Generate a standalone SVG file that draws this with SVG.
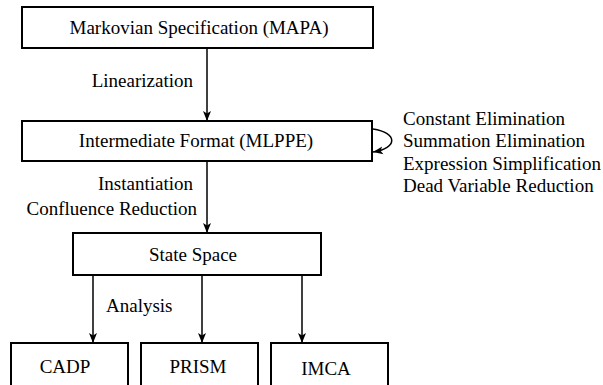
<svg xmlns="http://www.w3.org/2000/svg" width="603" height="385" viewBox="0 0 603 385">
  <defs>
    <style>
      .box { fill: #ffffff; stroke: #000000; stroke-width: 2; }
      .edge { fill: none; stroke: #000000; stroke-width: 1.5; }
      text { font-family: "Liberation Serif", "Times New Roman", serif; font-size: 19px; fill: #000000; }
      .mid { text-anchor: middle; }
      .end { text-anchor: end; }
    </style>
    <marker id="arrow" viewBox="0 0 10 10" refX="10" refY="5" markerWidth="10" markerHeight="10" markerUnits="userSpaceOnUse" orient="auto">
      <path d="M0,1 L10,5 L0,9 L2.5,5 Z" fill="#000000"/>
    </marker>
  </defs>
  <rect width="603" height="385" fill="#ffffff"/>

  <g id="connectors">
    <line class="edge" x1="207" y1="48" x2="207" y2="121" marker-end="url(#arrow)"/>
    <line class="edge" x1="207" y1="161" x2="207" y2="233" marker-end="url(#arrow)"/>
    <line class="edge" x1="93" y1="275" x2="93" y2="343" marker-end="url(#arrow)"/>
    <line class="edge" x1="202" y1="275" x2="202" y2="343" marker-end="url(#arrow)"/>
    <line class="edge" x1="302" y1="275" x2="302" y2="343" marker-end="url(#arrow)"/>
    <path class="edge" d="M373,129 C398,133 398,148 373,152" marker-end="url(#arrow)"/>
    <text class="end" x="193" y="87">Linearization</text>
    <text class="end" x="193" y="190">Instantiation</text>
    <text class="end" x="197" y="215">Confluence Reduction</text>
    <text x="106" y="312">Analysis</text>
    <text x="403" y="125">Constant Elimination</text>
    <text x="403" y="147">Summation Elimination</text>
    <text x="403" y="170">Expression Simplification</text>
    <text x="403" y="192">Dead Variable Reduction</text>
  </g>

  <g id="mapa">
    <rect class="box" x="22" y="7" width="351" height="41"/>
    <text class="mid" x="199" y="34">Markovian Specification (MAPA)</text>
  </g>
  <g id="mlppe">
    <rect class="box" x="22" y="121" width="350" height="40"/>
    <text class="mid" x="196" y="147">Intermediate Format (MLPPE)</text>
  </g>
  <g id="state-space">
    <rect class="box" x="73" y="233" width="248" height="42"/>
    <text class="mid" x="193" y="261">State Space</text>
  </g>
  <g id="cadp">
    <rect class="box" x="11" y="343" width="117" height="60"/>
    <text class="mid" x="65" y="373">CADP</text>
  </g>
  <g id="prism">
    <rect class="box" x="141" y="343" width="117" height="60"/>
    <text class="mid" x="198" y="373">PRISM</text>
  </g>
  <g id="imca">
    <rect class="box" x="271" y="343" width="117" height="60"/>
    <text class="mid" x="326" y="375">IMCA</text>
  </g>
</svg>
